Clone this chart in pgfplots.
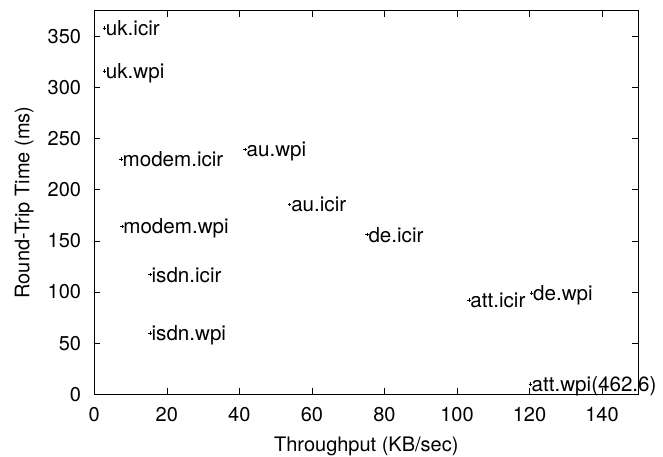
\documentclass[border=0pt]{standalone}
\usepackage{fontspec}
\setmainfont{TeX Gyre Heros}
\usepackage{pgfplots}
\pgfplotsset{compat=1.18}
\begin{document}
\fontsize{20}{24}\selectfont
\begin{tikzpicture}
\begin{axis}[
  name=ax, scale only axis, width=544pt, height=383.6pt,
  xmin=0, xmax=150, ymin=0, ymax=375,
  xtick={0,20,...,140}, ytick={0,50,...,350},
  tick align=inside, major tick length=6pt,
  axis line style={line width=0.8pt},
  every tick/.style={black, line width=0.6pt},
  font=\fontsize{20}{24}\selectfont,
  /pgf/number format/assume math mode=true,
  xticklabel style={inner sep=0pt, yshift=-13pt},
  yticklabel style={inner sep=0pt, xshift=-13pt},
  xlabel={Throughput (KB/sec)},
  ylabel={Round-Trip Time (ms)},
  xlabel style={at={(axis description cs:0.5,0)}, anchor=base, inner sep=0pt, yshift=-56.7pt},
  ylabel style={at={([xshift=-65pt]axis description cs:0,0.5)}, anchor=base, inner sep=0pt},
  clip=false,
]
\addplot[only marks, mark=+, mark size=1.7pt, mark options={line width=0.6pt}, black,
  nodes near coords, point meta=explicit symbolic,
  every node near coord/.append style={anchor=base west, inner sep=0pt, xshift=1.2pt, yshift=-7.4pt, black, font=\fontsize{20.6}{24}\selectfont}]
table[meta=label]{
x y label
2.8 358 uk.icir
2.8 316 uk.wpi
7.4 230 modem.icir
7.6 164 modem.wpi
15.4 117 isdn.icir
15.4 60 isdn.wpi
41.6 239.5 au.wpi
53.9 185.6 au.icir
75.2 156 de.icir
103.3 92 att.icir
120.6 99 de.wpi
120.2 10 att.wpi(462.6)
};
\end{axis}
\pgfresetboundingbox
\path ([shift={(-94.3pt,-62.7pt)}]ax.south west) rectangle ([shift={(24.7pt,10.7pt)}]ax.north east);
\end{tikzpicture}
\end{document}
